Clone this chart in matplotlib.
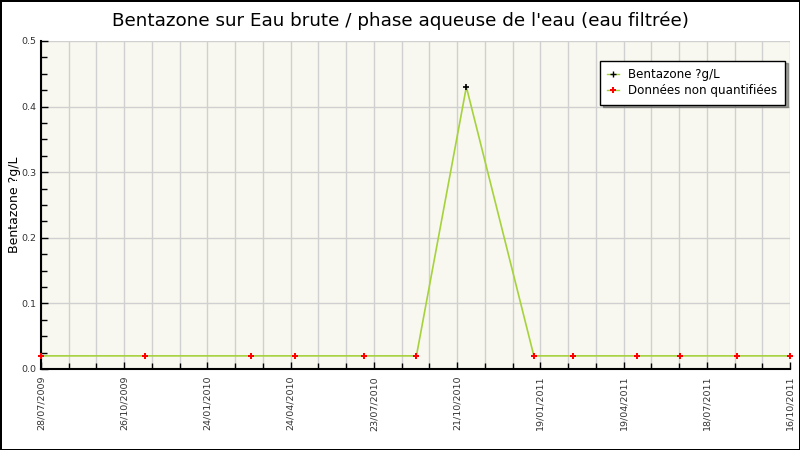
import matplotlib
matplotlib.use("Agg")
import matplotlib.pyplot as plt
import matplotlib.dates as mdates
from matplotlib.lines import Line2D
import datetime as dt

dates = ["2009-07-28", "2009-11-17", "2010-03-12", "2010-04-29", "2010-07-12",
         "2010-09-07", "2010-10-31", "2011-01-12", "2011-02-23", "2011-05-04",
         "2011-06-19", "2011-08-20", "2011-10-16"]
values = [0.02, 0.02, 0.02, 0.02, 0.02, 0.02, 0.43, 0.02, 0.02, 0.02, 0.02, 0.02, 0.02]
quantified = [False, False, False, False, False, False, True, False, False, False, False, False, False]

title = "Bentazone sur Eau brute / phase aqueuse de l'eau (eau filtrée)"
ylabel = "Bentazone ?g/L"
legend_labels = ["Bentazone ?g/L", "Données non quantifiées"]

x = [dt.datetime.strptime(d, "%Y-%m-%d") for d in dates]
start = dt.datetime(2009, 7, 28)
end = dt.datetime(2011, 10, 16)

line_color = "#a6d23c"

fig = plt.figure(figsize=(8, 4.5), dpi=100)
fig.patch.set_facecolor("white")
fig.patch.set_edgecolor("black")
fig.patch.set_linewidth(2)
ax = fig.add_axes([41/800, 81/450, 749/800, 328/450])
ax.set_facecolor("#f8f8f0")

ax.plot(x, values, color=line_color, lw=1.2, zorder=3, clip_on=False)
xq = [xi for xi, q in zip(x, quantified) if q]
yq = [v for v, q in zip(values, quantified) if q]
xn = [xi for xi, q in zip(x, quantified) if not q]
yn = [v for v, q in zip(values, quantified) if not q]
ax.plot(xq, yq, ls="none", marker="+", color="black", ms=4, mew=1.2, zorder=4, clip_on=False)
ax.plot(xn, yn, ls="none", marker="P", color="red", ms=4.8, mew=0, zorder=4, clip_on=False)

ax.set_xlim(start, end)
ax.set_ylim(0, 0.5)

major = [start + dt.timedelta(days=90*k) for k in range(10)]
minor = [start + dt.timedelta(days=30*k) for k in range(28)]
ax.set_xticks(major)
ax.set_xticks(minor, minor=True)
ax.xaxis.set_major_formatter(mdates.DateFormatter("%d/%m/%Y"))
ax.set_yticks([0.0, 0.1, 0.2, 0.3, 0.4, 0.5])
ax.set_yticks([i*0.025 for i in range(21)], minor=True)
ax.set_yticklabels(["0.0", "0.1", "0.2", "0.3", "0.4", "0.5"])

for lab in ax.get_xticklabels():
    lab.set_rotation(90)
ax.tick_params(axis="both", which="both", direction="in", labelsize=6.8, labelcolor="#333333", colors="black")
ax.tick_params(axis="both", which="major", length=5, width=1)
ax.tick_params(axis="both", which="minor", length=4, width=1)
ax.tick_params(axis="x", which="both", pad=5)

ax.grid(True, which="minor", axis="x", color="#d0d0d0", lw=1, zorder=0)
ax.grid(True, which="major", axis="x", color="#d0d0d0", lw=1, zorder=0)
ax.grid(True, which="major", axis="y", color="#d0d0d0", lw=1, zorder=0)
ax.set_axisbelow(True)

for side in ["top", "right"]:
    ax.spines[side].set_visible(False)
ax.spines["left"].set_linewidth(1.5)
ax.spines["bottom"].set_linewidth(1.5)

ax.set_ylabel(ylabel, fontsize=9)
ax.yaxis.set_label_coords(-0.027, 0.5)
fig.text(0.5, 0.955, title, ha="center", va="center", fontsize=13.2)

handles = [
    Line2D([], [], color=line_color, lw=1, marker="+", mfc="black", mec="black", ms=4),
    Line2D([], [], color=line_color, lw=1, marker="P", mfc="red", mec="red", ms=4.8, mew=0),
]
leg = ax.legend(handles, legend_labels, loc="upper right", bbox_to_anchor=(0.993, 0.94),
                fontsize=8.6, frameon=True, fancybox=False, shadow=True,
                handlelength=1.0, borderpad=0.6, labelspacing=0.3, handletextpad=0.8,
                borderaxespad=0)
leg.get_frame().set_edgecolor("black")
leg.get_frame().set_linewidth(1)

fig.savefig("out.png", dpi=100)
